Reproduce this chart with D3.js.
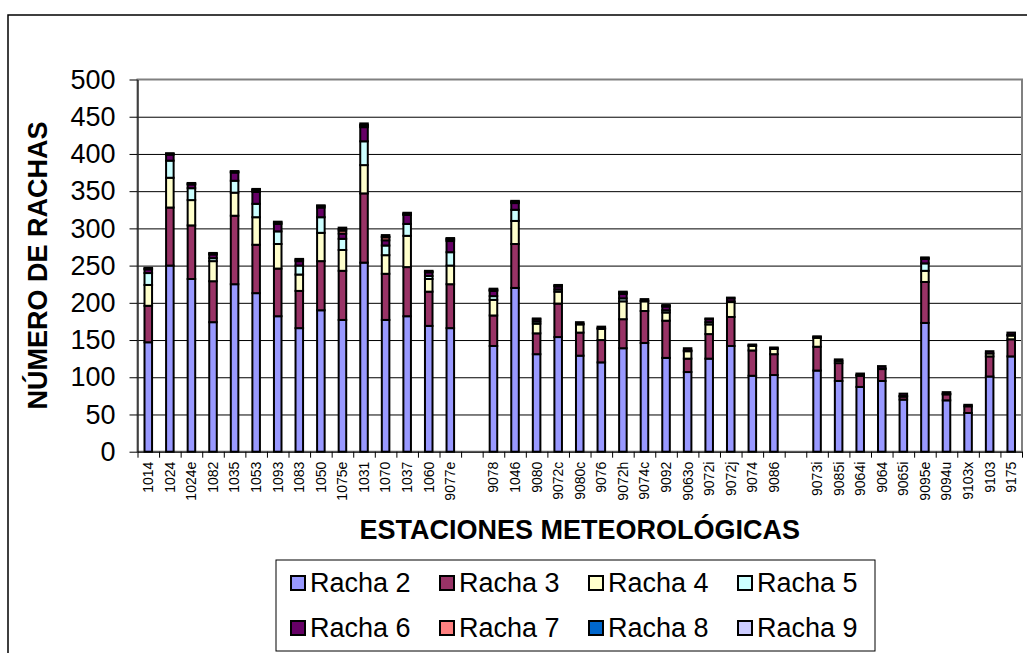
<!DOCTYPE html>
<html>
<head>
<meta charset="utf-8">
<script src="https://cdn.jsdelivr.net/npm/d3@7"></script>
<style>
  body { margin: 0; background: #fff; }
  svg text { font-family: Arial, "Liberation Sans", sans-serif; }
</style>
</head>
<body>
<svg id="chart" width="1027" height="653"></svg>
<script>
// estaciones ('' = hueco entre grupos)
const estaciones = ['1014','1024','1024e','1082','1035','1053','1093','1083','1050','1075e','1031','1070','1037','1060','9077e','',
  '9078','1046','9080','9072c','9080c','9076','9072h','9074c','9092','9063o','9072i','9072j','9074','9086','',
  '9073i','9085i','9064i','9064','9065i','9095e','9094u','9103x','9103','9175']

const racha2 = [147,250,232,174,225,213,182,166,190,177,254,177,182,169,166,0, 142,220,131,154,129,120,139,146,126,107,125,142,102,103,0, 109,95,87,95,70,173,69,52,101,128]
const racha3 = [49,78,72,55,92,65,64,50,66,66,93,62,66,46,59,0, 41,59,28,45,31,30,39,43,50,18,33,39,34,28,0, 32,24,15,16,4,55,8,9,27,23]
const racha4 = [28,40,34,27,31,37,33,22,38,28,38,25,42,17,25,0, 21,31,13,16,11,15,24,13,11,10,13,20,6,7,0, 12,3,1,1,1,15,1,0,4,5]
const racha5 = [16,23,16,4,16,18,17,12,21,15,32,13,16,4,18,0, 5,15,3,3,1,1,4,1,3,1,3,1,1,1,0, 1,0,0,0,0,10,0,0,0,1]
const racha6 = [5,8,5,5,11,16,10,6,13,7,19,7,12,5,15,0, 7,9,3,4,2,2,6,2,5,3,4,4,1,1,0, 1,2,2,3,3,6,2,2,3,3]
const racha7 = [1,1,1,1,1,2,2,2,2,4,2,4,1,1,2,0, 1,1,0,1,0,0,1,0,1,0,0,0,0,0,0, 0,0,0,0,0,1,0,0,0,0]
const racha8 = [0,0,0,0,0,1,0,0,0,2,1,1,1,0,1,0, 1,1,0,0,0,0,1,0,0,0,0,0,0,0,0, 0,0,0,0,0,0,0,0,0,0]
const racha9 = [1,1,1,1,1,1,1,1,1,2,2,2,1,1,1,0, 1,1,1,1,0,0,1,0,1,0,1,1,0,0,0, 0,0,0,0,0,1,0,0,0,0]

const series = ['Racha 2','Racha 3','Racha 4','Racha 5','Racha 6','Racha 7','Racha 8','Racha 9']
const colores = ['#9999FF','#993366','#FFFFCC','#CCFFFF','#660066','#FF8080','#0066CC','#CCCCFF']
const yTicks = [0,50,100,150,200,250,300,350,400,450,500]

const valores = [racha2,racha3,racha4,racha5,racha6,racha7,racha8,racha9]

const svg = d3.select('#chart')
const plot = {left: 137.5, top: 79.5, right: 1022, bottom: 451.7}

// marco exterior del grafico (se sale por la derecha y abajo)
svg.append('rect')
    .attr('x', 8).attr('y', 15)
    .attr('width', 1040).attr('height', 680)
    .attr('fill', 'none')
    .attr('stroke', '#000')
    .attr('stroke-width', 1.5)

const n = estaciones.length

const x = d3.scaleBand()
    .domain(d3.range(n))
    .range([plot.left, plot.right])
    .paddingInner(0.65)
    .paddingOuter(0.325)

// escala para las marcas entre categorias
const xb = d3.scaleLinear().domain([0, n]).range([plot.left, plot.right])

const y = d3.scaleLinear().domain([0, 500]).range([plot.bottom, plot.top])

// lineas de division
svg.append('g')
    .attr('transform', `translate(${plot.left},0)`)
    .call(d3.axisLeft(y).tickValues(yTicks.slice(1, -1)).tickSize(-(plot.right - plot.left)).tickFormat(''))
    .call(g => g.select('.domain').remove())
    .selectAll('line')
        .attr('stroke', '#000')

// borde del area de trazado
svg.append('rect')
    .attr('x', plot.left).attr('y', plot.top)
    .attr('width', plot.right - plot.left)
    .attr('height', plot.bottom - plot.top)
    .attr('fill', 'none')
    .attr('stroke', '#808080')
    .attr('stroke-width', 2)

const tabla = estaciones.map((e, i) => {
    const fila = {i}
    series.forEach((s, k) => fila[s] = valores[k][i])
    return fila
})

const apilado = d3.stack().keys(series)(tabla)

svg.append('g')
    .selectAll('g')
    .data(apilado)
    .join('g')
        .attr('fill', (d, i) => colores[i])
    .selectAll('rect')
    .data(d => d.filter(p => p[1] - p[0] > 0))
    .join('rect')
        .attr('x', d => x(d.data.i))
        .attr('width', x.bandwidth())
        .attr('y', d => y(d[1]))
        .attr('height', d => y(d[0]) - y(d[1]))
        .attr('stroke', '#000')
        .attr('stroke-width', 2)

// eje Y
const yAxis = svg.append('g')
    .attr('transform', `translate(${plot.left},0)`)
    .call(d3.axisLeft(y).tickValues(yTicks).tickSize(8).tickSizeOuter(0).tickPadding(14))
    .attr('font-size', 27)
    .attr('font-family', 'Arial, "Liberation Sans", sans-serif')
yAxis.selectAll('line, .domain').attr('stroke', '#000')
yAxis.selectAll('text').attr('fill', '#000')

// eje X: marcas entre categorias
svg.append('g')
    .attr('transform', `translate(0,${plot.bottom})`)
    .call(d3.axisBottom(xb).tickValues(d3.range(n + 1)).tickSize(6).tickSizeOuter(0).tickFormat(''))
    .selectAll('line, .domain').attr('stroke', '#000')

// eje X: etiquetas
svg.append('g')
    .attr('transform', `translate(0,${plot.bottom})`)
    .call(d3.axisBottom(x).tickSize(0).tickFormat(i => estaciones[i]))
    .attr('font-size', 14)
    .attr('font-family', 'Arial, "Liberation Sans", sans-serif')
    .call(g => g.select('.domain').remove())
    .selectAll('text')
        .attr('fill', '#000')
        .attr('transform', 'rotate(-90)')
        .attr('text-anchor', 'end')
        .attr('x', -10)
        .attr('y', 0)
        .attr('dy', '0.35em')

// titulos
svg.append('text')
    .attr('transform', `translate(38,${(plot.top + plot.bottom) / 2}) rotate(-90)`)
    .attr('text-anchor', 'middle')
    .attr('dy', '0.35em')
    .attr('font-size', 27)
    .attr('font-weight', 'bold')
    .text('NÚMERO DE RACHAS')

svg.append('text')
    .attr('x', (plot.left + plot.right) / 2)
    .attr('y', 530)
    .attr('text-anchor', 'middle')
    .attr('dy', '0.35em')
    .attr('font-size', 27)
    .attr('font-weight', 'bold')
    .text('ESTACIONES METEOROLÓGICAS')

// leyenda
const leyenda = svg.append('g')
leyenda.append('rect')
    .attr('x', 276).attr('y', 560)
    .attr('width', 599).attr('height', 91)
    .attr('fill', '#fff')
    .attr('stroke', '#000')
    .attr('stroke-width', 1)

const items = leyenda.selectAll('g.item')
    .data(series)
    .join('g')
        .attr('class', 'item')
        .attr('transform', (d, i) => `translate(${291 + (i % 4) * 149},${583 + Math.floor(i / 4) * 45})`)

items.append('rect')
    .attr('x', 0).attr('y', -7)
    .attr('width', 14).attr('height', 14)
    .attr('fill', (d, i) => colores[i])
    .attr('stroke', '#000')
    .attr('stroke-width', 2)

items.append('text')
    .attr('x', 19)
    .attr('dy', '0.35em')
    .attr('font-size', 27)
    .text(d => d)
</script>
</body>
</html>
